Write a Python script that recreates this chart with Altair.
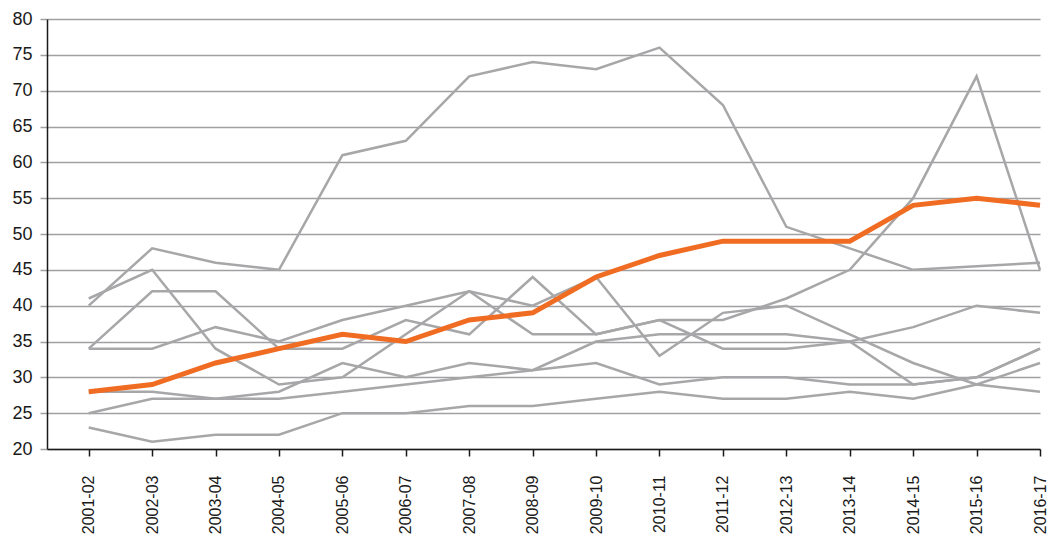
import altair as alt
import pandas as pd

years = ["2001-02", "2002-03", "2003-04", "2004-05", "2005-06", "2006-07", "2007-08", "2008-09",
         "2009-10", "2010-11", "2011-12", "2012-13", "2013-14", "2014-15", "2015-16", "2016-17"]

# grey series
s_a = [40, 48, 46, 45, 61, 63, 72, 74, 73, 76, 68, 51, 48, 45, 45.5, 46]
s_b = [41, 45, 34, 29, 30, 36, 42, 36, 36, 38, 38, 41, 45, 55, 72, 45]
s_c = [34, 42, 42, 34, 34, 38, 36, 44, 36, 38, 34, 34, 35, 37, 40, 39]
s_d = [34, 34, 37, 35, 38, 40, 42, 40, 44, 33, 39, 40, 36, 32, 29, 28]
s_e = [28, 28, 27, 28, 32, 30, 32, 31, 32, 29, 30, 30, 29, 29, 30, 34]
s_f = [25, 27, 27, 27, 28, 29, 30, 31, 35, 36, 36, 36, 35, 29, 30, 34]
s_g = [23, 21, 22, 22, 25, 25, 26, 26, 27, 28, 27, 27, 28, 27, 29, 32]
# highlighted (orange) series
highlight = [28, 29, 32, 34, 36, 35, 38, 39, 44, 47, 49, 49, 49, 54, 55, 54]

grey = {"a": s_a, "b": s_b, "c": s_c, "d": s_d, "e": s_e, "f": s_f, "g": s_g}
grey_df = pd.DataFrame(
    [{"year": y, "value": v, "series": k} for k, vals in grey.items() for y, v in zip(years, vals)]
)
hi_df = pd.DataFrame({"year": years, "value": highlight})

FONT = "Liberation Sans"

x_enc = alt.X(
    "year:N",
    sort=years,
    scale=alt.Scale(type="point", padding=0.329, align=1),
    axis=alt.Axis(
        title=None, labelAngle=270, labelAlign="right", labelBaseline="middle",
        labelFontSize=16, labelPadding=19, tickSize=7, tickColor="#1a1a1a", tickWidth=1.5,
        domainColor="#1a1a1a", domainWidth=1.5, grid=False, labelColor="#1a1a1a",
    ),
)
y_enc = alt.Y(
    "value:Q",
    scale=alt.Scale(domain=[20, 80], nice=False, zero=False),
    axis=alt.Axis(
        title=None, values=list(range(20, 81, 5)), labelFontSize=18, labelPadding=8,
        tickSize=7, tickColor="#a0a0a2", tickWidth=1.5, grid=True, gridColor="#a0a0a2",
        gridWidth=1.5, domainColor="#1a1a1a", domainWidth=1.5, labelColor="#1a1a1a",
    ),
)

grey_lines = alt.Chart(grey_df).mark_line(color="#a7a7a9", strokeWidth=2.5).encode(
    x=x_enc, y=y_enc, detail="series:N"
)
orange_line = alt.Chart(hi_df).mark_line(color="#ef6c22", strokeWidth=5).encode(
    x=x_enc, y=y_enc
)

chart = alt.layer(grey_lines, orange_line).properties(
    width=993,
    height=430,
    autosize=alt.AutoSizeParams(type="none"),
    padding={"left": 39, "top": 11, "right": 9, "bottom": 86},
).configure_view(stroke=None).configure_axis(labelFont=FONT)

chart.save("out.html", embed_options={"renderer": "svg", "actions": False})
